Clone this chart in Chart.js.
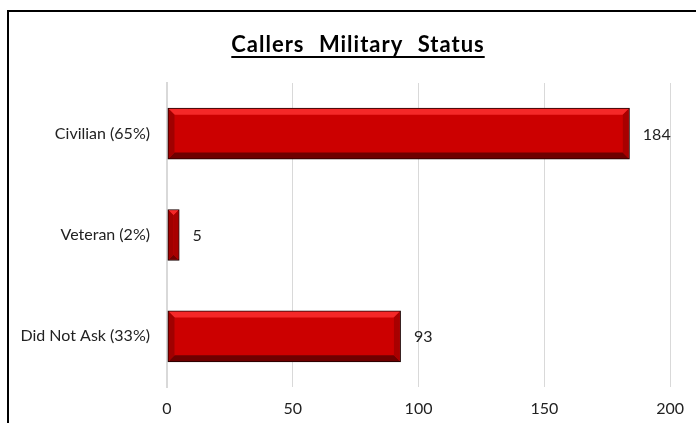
<!DOCTYPE html>
<html>
<head>
<meta charset="utf-8">
<script src="https://cdn.jsdelivr.net/npm/chart.js@4.4.0/dist/chart.umd.min.js"></script>
<style>
  html, body { margin: 0; padding: 0; background: #fff; }
  #wrap { width: 696px; height: 423px; }
</style>
</head>
<body>
<div id="wrap"><canvas id="statusChart" width="696" height="423"></canvas></div>
<script>
const categories = ['Civilian (65%)', 'Veteran (2%)', 'Did Not Ask (33%)'];
const callers = [184, 5, 93];
const xTicks = [0, 50, 100, 150, 200];
const titleText = 'Callers Military Status';

const FONT = 'Lato, Calibri, "Liberation Sans", sans-serif';

// frame around the chart (only top/left visible in the original)
const framePlugin = {
    id: 'frame',
    beforeDraw(chart) {
        const ctx = chart.ctx;
        ctx.save();
        ctx.strokeStyle = '#000';
        ctx.lineWidth = 2;
        ctx.strokeRect(8, 11, chart.width + 20, chart.height + 20);
        ctx.restore();
    }
};

// underlined title, a bit right of canvas centre like the original
const titlePlugin = {
    id: 'ulTitle',
    afterDraw(chart) {
        const ctx = chart.ctx;
        ctx.save();
        ctx.font = 'bold 22px ' + FONT;
        if ('letterSpacing' in ctx) ctx.letterSpacing = '1px';
        if ('wordSpacing' in ctx) ctx.wordSpacing = '8px';
        ctx.fillStyle = '#000';
        ctx.textBaseline = 'alphabetic';
        const w = ctx.measureText(titleText).width;
        const cx = 358;
        ctx.fillText(titleText, cx - w / 2, 52);
        ctx.fillRect(cx - w / 2, 56, w, 2);
        ctx.restore();
    }
};

// bevel look + value labels for each bar
const bevelPlugin = {
    id: 'bevel',
    afterDatasetsDraw(chart) {
        const ctx = chart.ctx;
        const meta = chart.getDatasetMeta(0);
        meta.data.forEach((bar, i) => {
            const x0 = bar.base + 1, x1 = bar.x - 1;
            const y0 = bar.y - bar.height / 2 + 1, y1 = bar.y + bar.height / 2 - 1;
            const b = Math.min(6, (x1 - x0) / 2, (y1 - y0) / 2);
            ctx.save();
            // top
            ctx.fillStyle = '#f52828';
            ctx.beginPath();
            ctx.moveTo(x0, y0); ctx.lineTo(x1, y0); ctx.lineTo(x1 - b, y0 + b); ctx.lineTo(x0 + b, y0 + b);
            ctx.fill();
            // bottom
            ctx.fillStyle = '#6e0000';
            ctx.beginPath();
            ctx.moveTo(x0, y1); ctx.lineTo(x1, y1); ctx.lineTo(x1 - b, y1 - b); ctx.lineTo(x0 + b, y1 - b);
            ctx.fill();
            // left
            ctx.fillStyle = '#a00000';
            ctx.beginPath();
            ctx.moveTo(x0, y0); ctx.lineTo(x0 + b, y0 + b); ctx.lineTo(x0 + b, y1 - b); ctx.lineTo(x0, y1);
            ctx.fill();
            // right
            ctx.fillStyle = '#a80000';
            ctx.beginPath();
            ctx.moveTo(x1, y0); ctx.lineTo(x1 - b, y0 + b); ctx.lineTo(x1 - b, y1 - b); ctx.lineTo(x1, y1);
            ctx.fill();
            ctx.restore();

            ctx.save();
            ctx.fillStyle = '#222';
            ctx.font = '16px ' + FONT;
            ctx.textBaseline = 'middle';
            ctx.fillText(callers[i], bar.x + 13, bar.y + 1);
            ctx.restore();
        });
    }
};

new Chart(document.getElementById('statusChart'), {
    type: 'bar',
    data: {
        labels: categories,
        datasets: [{
            data: callers,
            backgroundColor: '#cc0000',
            borderColor: '#1a0000',
            borderWidth: 1.5,
            borderSkipped: false,
            categoryPercentage: 1,
            barPercentage: 0.51
        }]
    },
    options: {
        indexAxis: 'y',
        responsive: false,
        animation: false,
        layout: { padding: { left: 0, right: 23, top: 83, bottom: 0 } },
        plugins: {
            legend: { display: false },
            tooltip: { enabled: false },
            title: { display: false }
        },
        scales: {
            x: {
                min: 0,
                max: 200,
                afterBuildTicks: (s) => { s.ticks = xTicks.map(v => ({ value: v })); },
                afterFit: (s) => { s.height = 36; },
                grid: { color: '#d9d9d9', drawTicks: false },
                border: { display: false },
                ticks: { color: '#222', padding: 12, font: { family: FONT, size: 16 } }
            },
            y: {
                afterFit: (s) => { s.width = 167; },
                grid: { display: false, drawTicks: false },
                border: { display: true, color: '#d9d9d9', width: 2 },
                ticks: { color: '#222', padding: 17, font: { family: FONT, size: 16 } }
            }
        }
    },
    plugins: [framePlugin, titlePlugin, bevelPlugin]
});
</script>
</body>
</html>
